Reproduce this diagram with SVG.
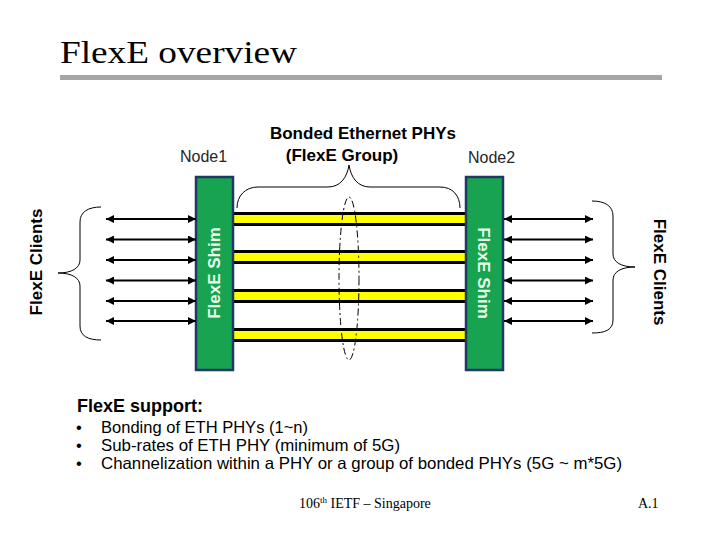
<svg xmlns="http://www.w3.org/2000/svg" width="720" height="540" viewBox="0 0 720 540">
<style>
.sans{font-family:"Liberation Sans",Arial,sans-serif}
.serif{font-family:"Liberation Serif","Times New Roman",serif}
.b{font-weight:bold}
.shim{fill:#17a34f;stroke:#1f3864;stroke-width:2.5}
.shimtxt{font-family:"Liberation Sans",Arial,sans-serif;font-weight:bold;font-size:17px;fill:#eaffea}
.arrow{stroke:#000;stroke-width:2;marker-start:url(#ah);marker-end:url(#ah)}
.brace{fill:none;stroke:#000;stroke-width:1}
.bar{fill:#000}
.barin{fill:#ffff00}
</style>
<defs>
<marker id="ah" viewBox="0 0 10 10" refX="10" refY="5" markerWidth="4.5" markerHeight="4" orient="auto-start-reverse" markerUnits="strokeWidth">
<path d="M0,0 L10,5 L0,10 z" fill="#000"/>
</marker>
</defs>
<rect width="720" height="540" fill="#fff"/>
<g id="title">
<text class="serif" x="60" y="63" font-size="31" textLength="237" lengthAdjust="spacingAndGlyphs">FlexE overview</text>
<rect x="60" y="75" width="602" height="5" fill="#a6a6a6"/>
</g>
<g id="phys">
<rect class="bar" x="233" y="212" width="233" height="14"/><rect class="barin" x="233" y="215" width="233" height="8"/>
<rect class="bar" x="233" y="250" width="233" height="14"/><rect class="barin" x="233" y="253" width="233" height="8"/>
<rect class="bar" x="233" y="289" width="233" height="14"/><rect class="barin" x="233" y="292" width="233" height="8"/>
<rect class="bar" x="233" y="328" width="233" height="14"/><rect class="barin" x="233" y="331" width="233" height="8"/>
<ellipse cx="349" cy="278.5" rx="10" ry="81.5" fill="none" stroke="#000" stroke-width="1" stroke-dasharray="7,3,2,3"/>
</g>
<g id="node1">
<rect class="shim" x="196" y="177" width="37" height="193"/>
<text class="shimtxt" transform="translate(220,273) rotate(-90)" text-anchor="middle">FlexE Shim</text>
<text class="sans" x="180" y="162" font-size="16" fill="#262626">Node1</text>
</g>
<g id="node2">
<rect class="shim" x="466" y="177" width="37" height="193"/>
<text class="shimtxt" transform="translate(478,273) rotate(90)" text-anchor="middle">FlexE Shim</text>
<text class="sans" x="468" y="163" font-size="16" fill="#262626">Node2</text>
</g>
<g id="group-label">
<text class="sans b" x="363" y="139" font-size="17" text-anchor="middle">Bonded Ethernet PHYs</text>
<text class="sans b" x="342" y="161" font-size="17" text-anchor="middle">(FlexE Group)</text>
<path class="brace" d="M237,208 C237,196 245,187 258,187 L328,187 C340,187 347,178 349,165 C351,178 358,187 370,187 L440,187 C453,187 460,196 460,208"/>
</g>
<g id="clients-left">
<text class="sans b" transform="translate(42,262) rotate(-90)" font-size="17" text-anchor="middle">FlexE Clients</text>
<path class="brace" d="M101,207 C88,207 80,212 80,222 L80,260 C80,268 72,273 58,273 C72,273 80,278 80,286 L80,326 C80,336 88,340 101,340"/>
</g>
<g id="clients-right">
<text class="sans b" transform="translate(654,272) rotate(90)" font-size="17" text-anchor="middle">FlexE Clients</text>
<path class="brace" d="M592,201 C605,201 613,206 613,216 L613,254 C613,262 621,267 635,267 C621,267 613,272 613,280 L613,320 C613,330 605,333 592,333"/>
</g>
<g id="connectors">
<line class="arrow" x1="106" y1="219" x2="196" y2="219"/>
<line class="arrow" x1="106" y1="239.5" x2="196" y2="239.5"/>
<line class="arrow" x1="106" y1="260" x2="196" y2="260"/>
<line class="arrow" x1="106" y1="280.5" x2="196" y2="280.5"/>
<line class="arrow" x1="106" y1="301" x2="196" y2="301"/>
<line class="arrow" x1="106" y1="321" x2="196" y2="321"/>
<line class="arrow" x1="504" y1="219" x2="593" y2="219"/>
<line class="arrow" x1="504" y1="239.5" x2="593" y2="239.5"/>
<line class="arrow" x1="504" y1="260" x2="593" y2="260"/>
<line class="arrow" x1="504" y1="280.5" x2="593" y2="280.5"/>
<line class="arrow" x1="504" y1="301" x2="593" y2="301"/>
<line class="arrow" x1="504" y1="321" x2="593" y2="321"/>
</g>
<g id="support">
<text class="sans b" x="77" y="412" font-size="18">FlexE support:</text>
<g class="sans" font-size="16.5">
<text x="76" y="433">•</text>
<text x="101" y="433" textLength="207" lengthAdjust="spacingAndGlyphs">Bonding of ETH PHYs (1~n)</text>
<text x="76" y="451">•</text>
<text x="101" y="451" textLength="299" lengthAdjust="spacingAndGlyphs">Sub-rates of ETH PHY (minimum of 5G)</text>
<text x="76" y="469">•</text>
<text x="101" y="469" textLength="521" lengthAdjust="spacingAndGlyphs">Channelization within a PHY or a group of bonded PHYs (5G ~ m*5G)</text>
</g>
</g>
<g id="footer" class="serif" font-size="14">
<text x="299" y="508">106<tspan font-size="9" dy="-5">th</tspan><tspan dy="5"> IETF – Singapore</tspan></text>
<text x="638" y="508">A.1</text>
</g>
</svg>
